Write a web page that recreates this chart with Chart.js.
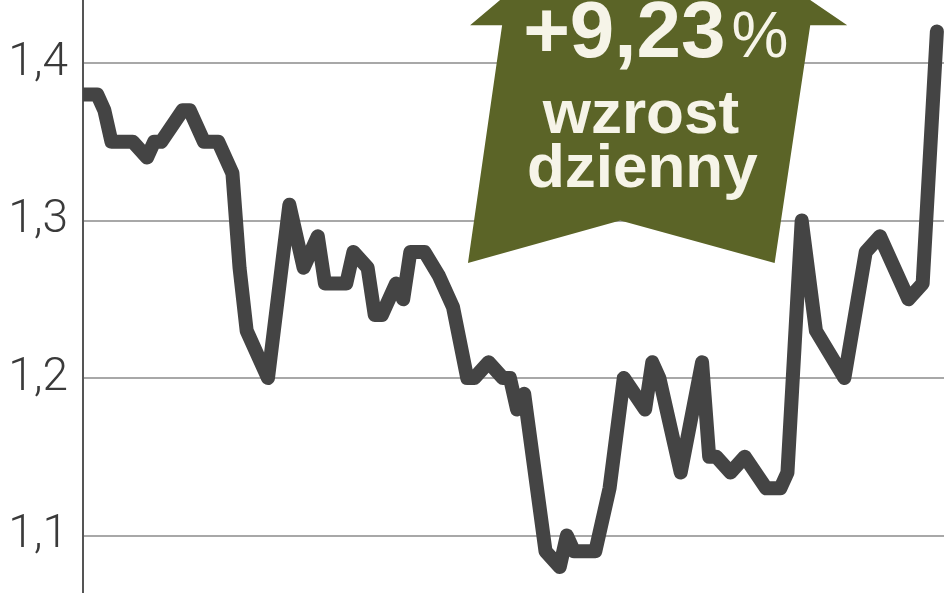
<!DOCTYPE html>
<html>
<head>
<meta charset="utf-8">
<script src="https://cdn.jsdelivr.net/npm/chart.js@4"></script>
<style>
  html, body { margin: 0; padding: 0; background: #fff; }
  #wrap { width: 948px; height: 593px; }
</style>
</head>
<body>
<div id="wrap"><canvas id="kurs"></canvas></div>
<script>
// numer sesji i kurs zamkniecia (zł)
const sesje = [0, 2, 3, 4, 7, 9, 10, 11, 14, 15, 17, 19, 21, 22, 23, 25, 26,
  29, 31, 33, 34, 37, 38, 40, 41, 42, 44, 45, 46, 48, 50, 52, 54, 55,
  57, 59, 60, 61, 62, 65, 67, 68, 69, 72, 74, 76, 79, 80, 81, 84, 87,
  88, 89, 91, 93, 96, 98, 99, 100, 101, 103, 107, 110, 112, 116, 118, 120];
const kurs = [1.38, 1.38, 1.37, 1.35, 1.35, 1.34, 1.35, 1.35, 1.37, 1.37, 1.35, 1.35, 1.33, 1.27, 1.23, 1.21, 1.20,
  1.31, 1.27, 1.29, 1.26, 1.26, 1.28, 1.27, 1.24, 1.24, 1.26, 1.25, 1.28, 1.28, 1.265, 1.245, 1.20, 1.20,
  1.21, 1.20, 1.20, 1.18, 1.19, 1.09, 1.08, 1.10, 1.09, 1.09, 1.13, 1.20, 1.18, 1.21, 1.20, 1.14, 1.21,
  1.15, 1.15, 1.14, 1.15, 1.13, 1.13, 1.14, 1.22, 1.30, 1.23, 1.20, 1.28, 1.29, 1.25, 1.26, 1.42];
const podzialka = [1.1, 1.2, 1.3, 1.4];
const zmiana = '+9,23';
const opis = ['wzrost', 'dzienny'];

// zielona strzalka z opisem zmiany
const strzalka = {
  id: 'strzalka',
  beforeDatasetsDraw(chart) {
    const { ctx, scales: { x, y } } = chart;
    const obrys = [[78.1, 1.514], [107.4, 1.424], [102.2, 1.424], [97.2, 1.273],
      [75.5, 1.300], [54.1, 1.273], [58.9, 1.424], [54.4, 1.424]];
    ctx.save();
    ctx.beginPath();
    obrys.forEach(([d, v], i) => {
      const px = x.getPixelForValue(d), py = y.getPixelForValue(v);
      if (i) ctx.lineTo(px, py); else ctx.moveTo(px, py);
    });
    ctx.closePath();
    ctx.fillStyle = '#5b6427';
    ctx.fill();

    ctx.fillStyle = '#f6f4e8';
    ctx.textBaseline = 'alphabetic';
    ctx.textAlign = 'left';
    const f1 = 'bold 80px "Liberation Sans", Arial, sans-serif';
    const f2 = 'normal 64px "Liberation Sans", Arial, sans-serif';
    ctx.font = f1;
    const w1 = ctx.measureText(zmiana).width;
    ctx.font = f2;
    const w2 = ctx.measureText('%').width;
    const cx = x.getPixelForValue(80.5);
    const by = y.getPixelForValue(1.4035);
    const sx = cx - (w1 + w2 + 6) / 2;
    ctx.font = f1;
    ctx.fillText(zmiana, sx, by);
    ctx.font = f2;
    ctx.fillText('%', sx + w1 + 6, by);

    ctx.textAlign = 'center';
    ctx.font = 'bold 62px "Liberation Sans", Arial, sans-serif';
    ctx.fillText(opis[0], x.getPixelForValue(78.4), y.getPixelForValue(1.3556));
    ctx.fillText(opis[1], x.getPixelForValue(78.6), y.getPixelForValue(1.3213));
    ctx.restore();
  }
};

const ctx = document.getElementById('kurs').getContext('2d');

new Chart(ctx, {
  type: 'line',
  data: {
    datasets: [{
      data: sesje.map((d, i) => ({ x: d, y: kurs[i] })),
      borderColor: '#444444',
      borderWidth: 14,
      borderJoinStyle: 'round',
      borderCapStyle: 'round',
      pointRadius: 0,
      tension: 0,
      fill: false
    }]
  },
  options: {
    responsive: true,
    maintainAspectRatio: false,
    animation: false,
    layout: { padding: { top: 0, right: 4, bottom: 0, left: 0 } },
    plugins: {
      legend: { display: false },
      tooltip: { enabled: false }
    },
    scales: {
      x: {
        type: 'linear',
        min: 0,
        max: 121,
        display: false
      },
      y: {
        min: 1.0635,
        max: 1.44,
        afterBuildTicks: (s) => { s.ticks = podzialka.map(v => ({ value: v })); },
        afterFit: (s) => {
          s.width = 83;
          s.paddingTop = 0;
          s.paddingBottom = 0;
        },
        ticks: {
          callback: (v) => v.toFixed(1).replace('.', ','),
          color: '#3a3a3a',
          font: { family: 'Roboto', weight: '300', size: 46 },
          padding: 15
        },
        grid: { color: '#a8a8a8', lineWidth: 2, drawTicks: false },
        border: { color: '#555555', width: 2 }
      }
    }
  },
  plugins: [strzalka]
});
</script>
</body>
</html>
